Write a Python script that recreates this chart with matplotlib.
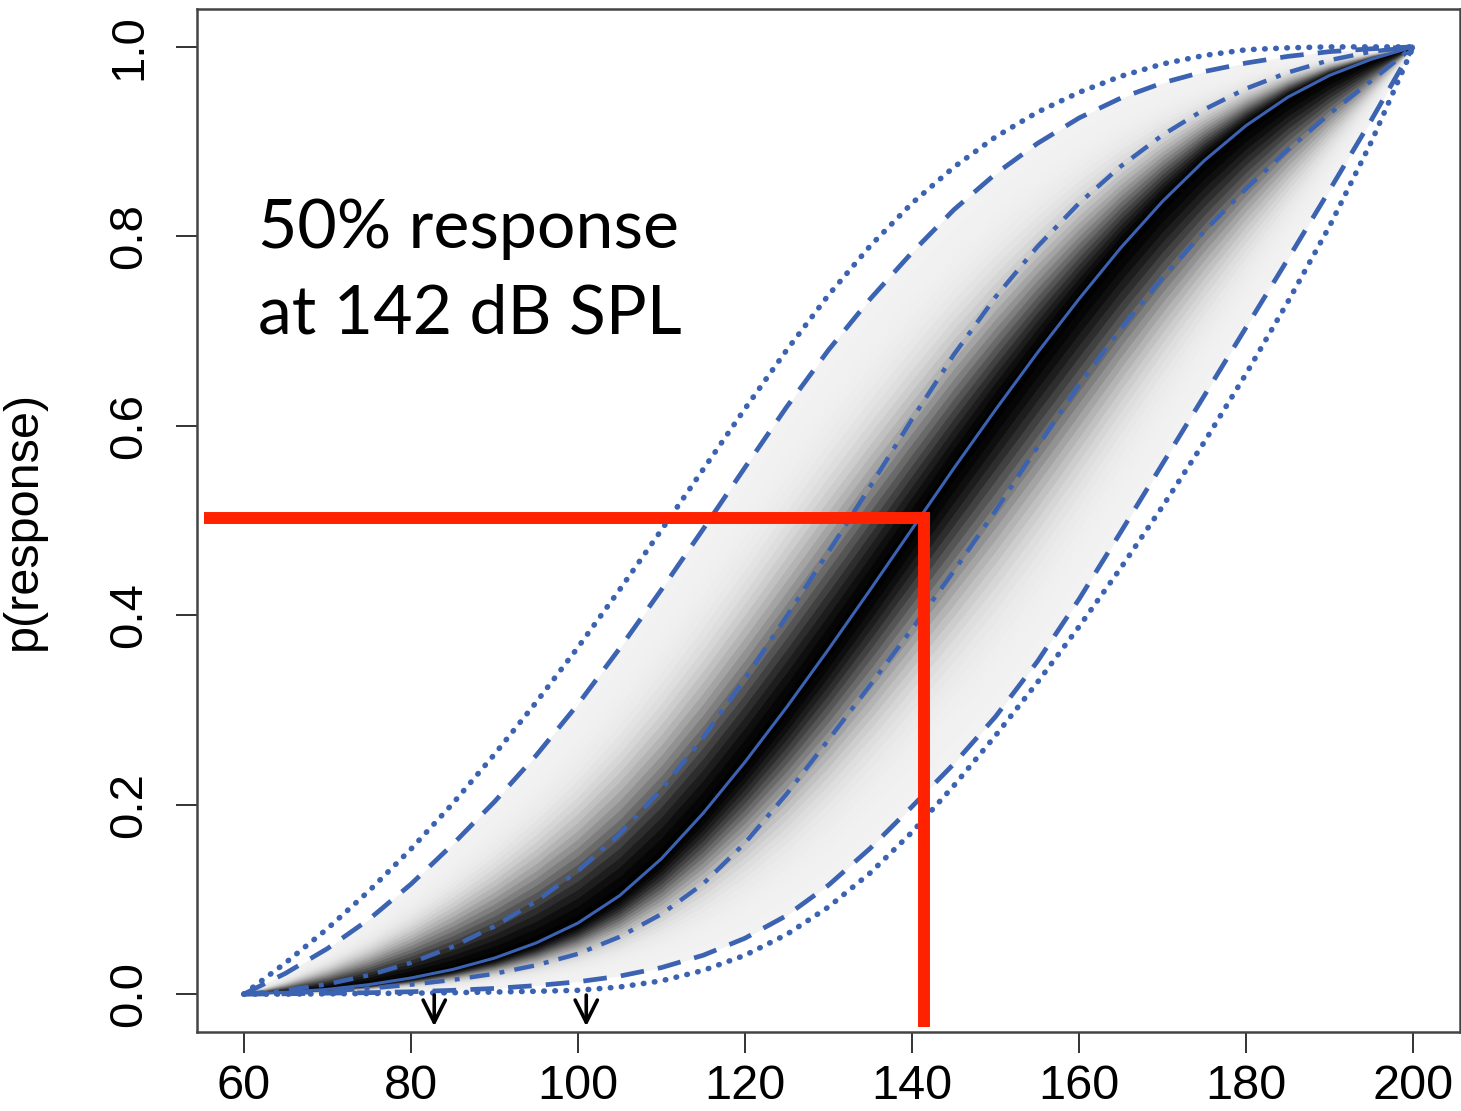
import numpy as np
import matplotlib
matplotlib.use('Agg')
from matplotlib import pyplot as plt

# sound level (dB SPL) and response curves
spl = [60, 65, 70, 75, 80, 85, 90, 95, 100, 105, 110, 115, 120, 125, 130,
       135, 140, 145, 150, 155, 160, 165, 170, 175, 180, 185, 190, 195, 200]
median = [0.000, 0.002, 0.005, 0.010, 0.017, 0.026, 0.038, 0.054, 0.075, 0.104,
          0.143, 0.191, 0.245, 0.303, 0.364, 0.427, 0.491, 0.555, 0.617, 0.677,
          0.734, 0.788, 0.837, 0.880, 0.917, 0.947, 0.970, 0.987, 1.000]
dotdash_upper = [0.000, 0.004, 0.0105, 0.020, 0.033, 0.050, 0.0715, 0.098, 0.130, 0.169,
                 0.216, 0.271, 0.333, 0.399, 0.467, 0.536, 0.607, 0.675, 0.736, 0.789,
                 0.835, 0.874, 0.907, 0.934, 0.956, 0.973, 0.986, 0.995, 1.000]
dotdash_lower = [0.000, 0.001, 0.003, 0.006, 0.010, 0.015, 0.0215, 0.0305, 0.0425, 0.0605,
                 0.0845, 0.1165, 0.1595, 0.2115, 0.2685, 0.3265, 0.3855, 0.4465, 0.5105, 0.5775,
                 0.6435, 0.7025, 0.7565, 0.8055, 0.8505, 0.8915, 0.9295, 0.9645, 1.000]
dashed_upper = [0.000, 0.022, 0.048, 0.079, 0.116, 0.158, 0.203, 0.252, 0.306, 0.365,
                0.427, 0.491, 0.556, 0.620, 0.680, 0.734, 0.783, 0.828, 0.866, 0.898,
                0.925, 0.946, 0.962, 0.974, 0.983, 0.990, 0.995, 0.998, 1.000]
dashed_lower = [0.000, 0.0003, 0.001, 0.0015, 0.0025, 0.004, 0.006, 0.009, 0.013, 0.019,
                0.028, 0.041, 0.059, 0.083, 0.115, 0.154, 0.198, 0.243, 0.293, 0.351,
                0.417, 0.488, 0.560, 0.632, 0.704, 0.776, 0.849, 0.923, 1.000]
dotted_upper = [0.000, 0.033, 0.069, 0.109, 0.153, 0.201, 0.253, 0.308, 0.366, 0.427,
                0.490, 0.554, 0.618, 0.680, 0.738, 0.790, 0.835, 0.873, 0.905, 0.931,
                0.952, 0.969, 0.982, 0.991, 0.997, 0.999, 1.000, 1.000, 1.000]
dotted_lower = [0.000, 0.000, 0.0003, 0.0006, 0.001, 0.0015, 0.0022, 0.003, 0.004, 0.0075,
                0.014, 0.025, 0.041, 0.063, 0.092, 0.128, 0.171, 0.220, 0.273, 0.329,
                0.388, 0.450, 0.515, 0.583, 0.655, 0.731, 0.811, 0.900, 1.000]

x_ticks = [60, 80, 100, 120, 140, 160, 180, 200]
y_ticks = [0.0, 0.2, 0.4, 0.6, 0.8, 1.0]
arrow_spl = [82.8, 101.0]
threshold_spl = 141.4
threshold_p = 0.503

blue = '#3C63B1'
red = '#FF2200'

fig = plt.figure(figsize=(14.61, 11.11), dpi=100)
ax = fig.add_axes([197 / 1461, 79 / 1111, 1263 / 1461, 1023 / 1111])

x = np.array(spl)
med = np.array(median)
up = np.array(dashed_upper)
lo = np.array(dashed_lower)

# grey density bands between the dashed curves, darkest at the median
nb = 26
for k in range(nb):
    f = 1 - k / nb
    fm = f - 0.5 / nb
    g = 0.95 * (1 - np.exp(-(fm / 0.38) ** 2))
    ax.fill_between(x, med + f * (lo - med), med + f * (up - med),
                    color=(g, g, g), lw=0, zorder=1)

ax.plot(x, dotted_upper, color=blue, lw=4.0, dashes=(0.1, 1.9),
        dash_capstyle='round', zorder=3)
ax.plot(x, dotted_lower, color=blue, lw=4.0, dashes=(0.1, 1.9),
        dash_capstyle='round', zorder=3)
ax.plot(x, dashed_upper, color=blue, lw=3.4, dashes=(5, 3), zorder=3)
ax.plot(x, dashed_lower, color=blue, lw=3.4, dashes=(5, 3), zorder=3)
ax.plot(x, dotdash_upper, color=blue, lw=3.2, dashes=(4.5, 2.3, 1.1, 2.3), zorder=3)
ax.plot(x, dotdash_lower, color=blue, lw=3.2, dashes=(4.5, 2.3, 1.1, 2.3), zorder=3)
ax.plot(x, median, color=blue, lw=2.2, zorder=3)

# red guide lines at the 50% point
ax.plot([55.2, threshold_spl + 0.6], [threshold_p, threshold_p], color=red,
        lw=8.6, solid_capstyle='butt', zorder=4)
ax.plot([threshold_spl, threshold_spl], [threshold_p + 0.006, -0.035], color=red,
        lw=8.6, solid_capstyle='butt', zorder=4)

for a in arrow_spl:
    ax.annotate('', xy=(a, -0.034), xytext=(a, -0.001),
                arrowprops=dict(arrowstyle='->', lw=2.6, color='black',
                                mutation_scale=40, shrinkA=0, shrinkB=0),
                zorder=5)

ax.set_xlim(54.4, 205.6)
ax.set_ylim(-0.04, 1.04)
ax.set_xticks(x_ticks)
ax.set_yticks(y_ticks)
ax.set_xticklabels([str(t) for t in x_ticks], fontsize=35, family='Liberation Sans')
ax.set_yticklabels(['%.1f' % t for t in y_ticks], fontsize=34,
                   family='Liberation Sans', rotation=90, va='center')
ax.tick_params(axis='both', length=15, width=1.4, color='#333333')
ax.tick_params(axis='x', pad=8)
ax.tick_params(axis='y', pad=18)
for s in ax.spines.values():
    s.set_linewidth(1.8)
    s.set_color('#444444')

ax.set_ylabel('p(response)', fontsize=35, family='Liberation Sans')
ax.yaxis.set_label_coords(-0.120, 0.5)

fig.text(258 / 1461, 1 - 248 / 1111, '50% response', fontsize=49,
         family='Lato', va='baseline', ha='left')
fig.text(258 / 1461, 1 - 333 / 1111, 'at 142 dB SPL', fontsize=49,
         family='Lato', va='baseline', ha='left')

fig.savefig('out.png', dpi=100)
